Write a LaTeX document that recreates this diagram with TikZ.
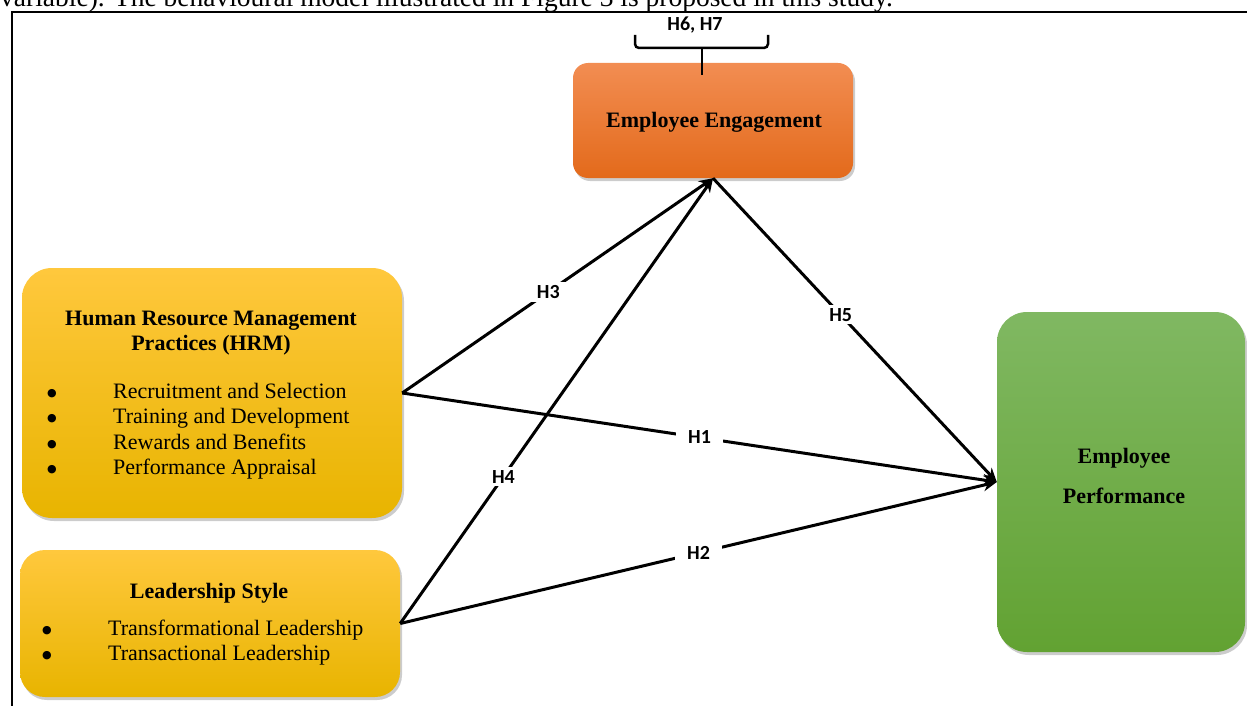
\documentclass[tikz,border=0pt]{standalone}
\usepackage{fontspec}
\setmainfont{Liberation Serif}
\newfontfamily\hypfont{Carlito}
\newfontfamily\dotfont{DejaVu Sans}
\usetikzlibrary{arrows.meta, shadows, positioning}
\definecolor{engTop}{HTML}{F28D52}
\definecolor{engBot}{HTML}{E36A1B}
\definecolor{hrmTop}{HTML}{FFC83D}
\definecolor{hrmMid}{HTML}{FFC000}
\definecolor{hrmBot}{HTML}{E8B400}
\definecolor{perfTop}{HTML}{80B862}
\definecolor{perfBot}{HTML}{62A232}
\newcommand{\bigbullet}{\raisebox{2pt}{\dotfont\fontsize{11}{11}\selectfont ●}}
\tikzset{
  box/.style={rectangle, draw=none, inner sep=0pt, align=center,
    drop shadow={shadow xshift=2pt, shadow yshift=-3pt, opacity=.4}},
  yellowbox/.style={box, top color=hrmTop, middle color=hrmMid, bottom color=hrmBot},
  boxtitle/.style={font=\bfseries\fontsize{22}{25}\selectfont, align=center},
  boxlist/.style={font=\fontsize{22}{25.5}\selectfont, inner sep=0pt, anchor=base west},
  arrow/.style={line width=3pt, -{Stealth[length=14pt, width=12pt]}},
  hyp/.style={font=\hypfont\bfseries\fontsize{20}{20}\selectfont, fill=white, inner xsep=12pt, inner ysep=3pt}
}

\begin{document}
\begin{tikzpicture}[x=1pt, y=-1pt]
\useasboundingbox (0,0) rectangle (1247,706);
% Caption text cut at the top
\node (caption) [anchor=base west, inner sep=0pt, font=\fontsize{27.5}{27.5}\selectfont] at (0,7)
  {variable). The behavioural model illustrated in Figure 3 is proposed in this study.};
% Frame
\draw [line width=2pt] (12,730) -- (12,12) -- (1270,12);
% Define nodes
\node (eng) [box, top color=engTop, bottom color=engBot, rounded corners=15pt,
  minimum width=280pt, minimum height=115pt] at (713,120.5) {};
\node (hrm) [yellowbox, rounded corners=30pt, minimum width=380pt, minimum height=250pt] at (212,393) {};
\node (lead) [yellowbox, rounded corners=25pt, minimum width=380pt, minimum height=147pt] at (210,623.5) {};
\node (perf) [box, top color=perfTop, bottom color=perfBot, rounded corners=30pt,
  minimum width=248pt, minimum height=340pt] at (1121,482) {};
% Box contents
\node (engText) [boxtitle, anchor=base] at (714,128) {Employee Engagement};
\node (perfText) [boxtitle, anchor=base, font=\bfseries\fontsize{22}{40}\selectfont] at (1124,503)
  {Employee\\Performance};
\node (hrmTitle) [boxtitle, anchor=base] at (211,350) {Human Resource Management\\Practices (HRM)};
\node (hrmList) [boxlist] at (47,398)
  {\begin{tabular}[t]{@{}p{66pt}@{}l@{}}
   \bigbullet & Recruitment and Selection\\
   \bigbullet & Training and Development\\
   \bigbullet & Rewards and Benefits\\
   \bigbullet & Performance Appraisal
   \end{tabular}};
\node (leadTitle) [boxtitle, anchor=base] at (209,598) {Leadership Style};
\node (leadList) [boxlist] at (42,635)
  {\begin{tabular}[t]{@{}p{66pt}@{}l@{}}
   \bigbullet & Transformational Leadership\\
   \bigbullet & Transactional Leadership
   \end{tabular}};
% Moderation brace
\draw [line width=2.5pt, rounded corners=4pt] (635,35) -- (635,48) -- (768,48) -- (768,35);
\draw [line width=2.5pt] (702,48) -- (702,75);
\node (h67) [hyp, fill=none] at (695,25) {H6, H7};
% Connect nodes with arrows
\draw [arrow] (hrm.east) -- node (h3) [hyp, pos=.47] {H3} (eng.south);
\draw [arrow] (lead.east) -- node (h4) [hyp, pos=.33] {H4} (eng.south);
\draw [arrow] (eng.south) -- node (h5) [hyp, pos=.45] {H5} (perf.west);
\draw [arrow] (hrm.east) -- node (h1) [hyp, pos=.5] {H1} (perf.west);
\draw [arrow] (lead.east) -- node (h2) [hyp, pos=.5] {H2} (perf.west);
\end{tikzpicture}
\end{document}
